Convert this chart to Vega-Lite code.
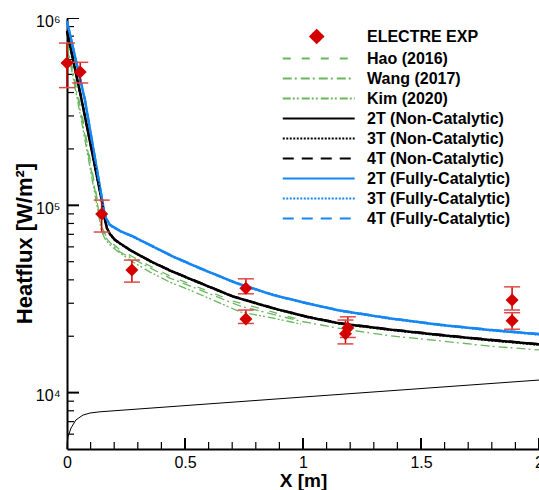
{
  "$schema": "https://vega.github.io/schema/vega-lite/v6.json",
  "width": 472,
  "height": 431,
  "autosize": "none",
  "padding": {"left": 67, "top": 18, "right": 0, "bottom": 41},
  "background": "white",
  "config": {"view": {"stroke": null}, "font": "Liberation Sans"},
  "resolve": {"axis": {"x": "independent", "y": "independent"}},
  "datasets": {
    "xmajor": [{"v": 0}, {"v": 0.5}, {"v": 1}, {"v": 1.5}, {"v": 2}],
    "xminor": [{"v": 0.1}, {"v": 0.2}, {"v": 0.3}, {"v": 0.4}, {"v": 0.6}, {"v": 0.7}, {"v": 0.8}, {"v": 0.9}, {"v": 1.1}, {"v": 1.2}, {"v": 1.3}, {"v": 1.4}, {"v": 1.6}, {"v": 1.7}, {"v": 1.8}, {"v": 1.9}],
    "ymajor": [{"v": 10000}, {"v": 100000}, {"v": 1000000}],
    "yminor": [{"v": 6000}, {"v": 7000}, {"v": 8000}, {"v": 9000}, {"v": 20000}, {"v": 30000}, {"v": 40000}, {"v": 50000}, {"v": 60000}, {"v": 70000}, {"v": 80000}, {"v": 90000}, {"v": 200000}, {"v": 300000}, {"v": 400000}, {"v": 500000}, {"v": 600000}, {"v": 700000}, {"v": 800000}, {"v": 900000}],
    "geom": [
      {"x": 0, "y": 5000}, {"x": 0.001, "y": 5400}, {"x": 0.004, "y": 5800}, {"x": 0.017, "y": 6470},
      {"x": 0.038, "y": 7150}, {"x": 0.068, "y": 7590}, {"x": 0.097, "y": 7780}, {"x": 0.14, "y": 7900},
      {"x": 1.0, "y": 9470}, {"x": 2.0, "y": 11670}
    ],
    "curves": [
      {"s": "Hao (2016)", "x": 0, "y": 745000}, {"s": "Hao (2016)", "x": 0.064, "y": 303500}, {"s": "Hao (2016)", "x": 0.14, "y": 88800},
      {"s": "Hao (2016)", "x": 0.148, "y": 76600}, {"s": "Hao (2016)", "x": 0.165, "y": 68600}, {"s": "Hao (2016)", "x": 0.191, "y": 62900},
      {"s": "Hao (2016)", "x": 0.225, "y": 57700}, {"s": "Hao (2016)", "x": 0.28, "y": 53000}, {"s": "Hao (2016)", "x": 0.352, "y": 47400},
      {"s": "Hao (2016)", "x": 0.436, "y": 41900}, {"s": "Hao (2016)", "x": 0.521, "y": 38000}, {"s": "Hao (2016)", "x": 0.703, "y": 30800},
      {"s": "Hao (2016)", "x": 0.873, "y": 26900}, {"s": "Hao (2016)", "x": 0.992, "y": 24400},

      {"s": "Wang (2017)", "x": 0, "y": 727000}, {"s": "Wang (2017)", "x": 0.061, "y": 299800}, {"s": "Wang (2017)", "x": 0.14, "y": 85500},
      {"s": "Wang (2017)", "x": 0.148, "y": 74700}, {"s": "Wang (2017)", "x": 0.165, "y": 66900}, {"s": "Wang (2017)", "x": 0.191, "y": 61400},
      {"s": "Wang (2017)", "x": 0.225, "y": 56300}, {"s": "Wang (2017)", "x": 0.28, "y": 51700}, {"s": "Wang (2017)", "x": 0.352, "y": 46300},
      {"s": "Wang (2017)", "x": 0.436, "y": 40900}, {"s": "Wang (2017)", "x": 0.521, "y": 37100}, {"s": "Wang (2017)", "x": 0.733, "y": 29000},
      {"s": "Wang (2017)", "x": 0.987, "y": 24100}, {"s": "Wang (2017)", "x": 1.157, "y": 22000}, {"s": "Wang (2017)", "x": 1.369, "y": 20100},
      {"s": "Wang (2017)", "x": 1.581, "y": 18900}, {"s": "Wang (2017)", "x": 1.792, "y": 17700}, {"s": "Wang (2017)", "x": 2.0, "y": 16900},

      {"s": "Kim (2020)", "x": 0, "y": 709000}, {"s": "Kim (2020)", "x": 0.059, "y": 292500}, {"s": "Kim (2020)", "x": 0.138, "y": 83500},
      {"s": "Kim (2020)", "x": 0.146, "y": 72900}, {"s": "Kim (2020)", "x": 0.161, "y": 66100}, {"s": "Kim (2020)", "x": 0.186, "y": 60600},
      {"s": "Kim (2020)", "x": 0.225, "y": 55600}, {"s": "Kim (2020)", "x": 0.28, "y": 49800}, {"s": "Kim (2020)", "x": 0.352, "y": 44000},
      {"s": "Kim (2020)", "x": 0.436, "y": 38900}, {"s": "Kim (2020)", "x": 0.521, "y": 35300}, {"s": "Kim (2020)", "x": 0.733, "y": 27000},
      {"s": "Kim (2020)", "x": 0.873, "y": 25000}, {"s": "Kim (2020)", "x": 0.992, "y": 23200},

      {"s": "2T (Non-Catalytic)", "x": 0, "y": 850000}, {"s": "2T (Non-Catalytic)", "x": 0.062, "y": 365000}, {"s": "2T (Non-Catalytic)", "x": 0.147, "y": 106700},
      {"s": "2T (Non-Catalytic)", "x": 0.155, "y": 92000}, {"s": "2T (Non-Catalytic)", "x": 0.161, "y": 83500}, {"s": "2T (Non-Catalytic)", "x": 0.169, "y": 75700},
      {"s": "2T (Non-Catalytic)", "x": 0.182, "y": 70300}, {"s": "2T (Non-Catalytic)", "x": 0.203, "y": 65300}, {"s": "2T (Non-Catalytic)", "x": 0.267, "y": 57700},
      {"s": "2T (Non-Catalytic)", "x": 0.352, "y": 50400}, {"s": "2T (Non-Catalytic)", "x": 0.436, "y": 44900}, {"s": "2T (Non-Catalytic)", "x": 0.521, "y": 40500},
      {"s": "2T (Non-Catalytic)", "x": 0.703, "y": 32600}, {"s": "2T (Non-Catalytic)", "x": 0.874, "y": 28200}, {"s": "2T (Non-Catalytic)", "x": 1.016, "y": 25400},
      {"s": "2T (Non-Catalytic)", "x": 1.157, "y": 23400}, {"s": "2T (Non-Catalytic)", "x": 1.369, "y": 21700}, {"s": "2T (Non-Catalytic)", "x": 1.581, "y": 20300},
      {"s": "2T (Non-Catalytic)", "x": 1.792, "y": 19100}, {"s": "2T (Non-Catalytic)", "x": 2.0, "y": 18100},

      {"s": "3T (Non-Catalytic)", "x": 0, "y": 845000}, {"s": "3T (Non-Catalytic)", "x": 0.062, "y": 363000}, {"s": "3T (Non-Catalytic)", "x": 0.147, "y": 106000},
      {"s": "3T (Non-Catalytic)", "x": 0.155, "y": 91500}, {"s": "3T (Non-Catalytic)", "x": 0.161, "y": 83000}, {"s": "3T (Non-Catalytic)", "x": 0.169, "y": 75400},
      {"s": "3T (Non-Catalytic)", "x": 0.182, "y": 70000}, {"s": "3T (Non-Catalytic)", "x": 0.203, "y": 65000}, {"s": "3T (Non-Catalytic)", "x": 0.267, "y": 57500},
      {"s": "3T (Non-Catalytic)", "x": 0.352, "y": 50200}, {"s": "3T (Non-Catalytic)", "x": 0.436, "y": 44700}, {"s": "3T (Non-Catalytic)", "x": 0.521, "y": 40300},
      {"s": "3T (Non-Catalytic)", "x": 0.703, "y": 32500}, {"s": "3T (Non-Catalytic)", "x": 0.874, "y": 28100}, {"s": "3T (Non-Catalytic)", "x": 1.016, "y": 25300},
      {"s": "3T (Non-Catalytic)", "x": 1.157, "y": 23300}, {"s": "3T (Non-Catalytic)", "x": 1.369, "y": 21600}, {"s": "3T (Non-Catalytic)", "x": 1.581, "y": 20200},
      {"s": "3T (Non-Catalytic)", "x": 1.792, "y": 19000}, {"s": "3T (Non-Catalytic)", "x": 2.0, "y": 18000},

      {"s": "4T (Non-Catalytic)", "x": 0, "y": 855000}, {"s": "4T (Non-Catalytic)", "x": 0.062, "y": 367000}, {"s": "4T (Non-Catalytic)", "x": 0.147, "y": 107200},
      {"s": "4T (Non-Catalytic)", "x": 0.155, "y": 92500}, {"s": "4T (Non-Catalytic)", "x": 0.161, "y": 84000}, {"s": "4T (Non-Catalytic)", "x": 0.169, "y": 76000},
      {"s": "4T (Non-Catalytic)", "x": 0.182, "y": 70600}, {"s": "4T (Non-Catalytic)", "x": 0.203, "y": 65600}, {"s": "4T (Non-Catalytic)", "x": 0.267, "y": 57900},
      {"s": "4T (Non-Catalytic)", "x": 0.352, "y": 50600}, {"s": "4T (Non-Catalytic)", "x": 0.436, "y": 45100}, {"s": "4T (Non-Catalytic)", "x": 0.521, "y": 40700},
      {"s": "4T (Non-Catalytic)", "x": 0.703, "y": 32700}, {"s": "4T (Non-Catalytic)", "x": 0.874, "y": 28300}, {"s": "4T (Non-Catalytic)", "x": 1.016, "y": 25500},
      {"s": "4T (Non-Catalytic)", "x": 1.157, "y": 23500}, {"s": "4T (Non-Catalytic)", "x": 1.369, "y": 21800}, {"s": "4T (Non-Catalytic)", "x": 1.581, "y": 20400},
      {"s": "4T (Non-Catalytic)", "x": 1.792, "y": 19200}, {"s": "4T (Non-Catalytic)", "x": 2.0, "y": 18200},

      {"s": "2T (Fully-Catalytic)", "x": 0, "y": 960000}, {"s": "2T (Fully-Catalytic)", "x": 0.076, "y": 365000}, {"s": "2T (Fully-Catalytic)", "x": 0.157, "y": 93300},
      {"s": "2T (Fully-Catalytic)", "x": 0.165, "y": 85500}, {"s": "2T (Fully-Catalytic)", "x": 0.182, "y": 78500}, {"s": "2T (Fully-Catalytic)", "x": 0.225, "y": 72900},
      {"s": "2T (Fully-Catalytic)", "x": 0.281, "y": 68000}, {"s": "2T (Fully-Catalytic)", "x": 0.366, "y": 60100}, {"s": "2T (Fully-Catalytic)", "x": 0.45, "y": 53200},
      {"s": "2T (Fully-Catalytic)", "x": 0.564, "y": 46100}, {"s": "2T (Fully-Catalytic)", "x": 0.716, "y": 38500}, {"s": "2T (Fully-Catalytic)", "x": 0.874, "y": 33200},
      {"s": "2T (Fully-Catalytic)", "x": 1.016, "y": 30000}, {"s": "2T (Fully-Catalytic)", "x": 1.157, "y": 27400}, {"s": "2T (Fully-Catalytic)", "x": 1.369, "y": 24900},
      {"s": "2T (Fully-Catalytic)", "x": 1.581, "y": 23000}, {"s": "2T (Fully-Catalytic)", "x": 1.792, "y": 21600}, {"s": "2T (Fully-Catalytic)", "x": 2.0, "y": 20500},

      {"s": "3T (Fully-Catalytic)", "x": 0, "y": 955000}, {"s": "3T (Fully-Catalytic)", "x": 0.076, "y": 363000}, {"s": "3T (Fully-Catalytic)", "x": 0.157, "y": 92800},
      {"s": "3T (Fully-Catalytic)", "x": 0.165, "y": 85100}, {"s": "3T (Fully-Catalytic)", "x": 0.182, "y": 78100}, {"s": "3T (Fully-Catalytic)", "x": 0.225, "y": 72600},
      {"s": "3T (Fully-Catalytic)", "x": 0.281, "y": 67700}, {"s": "3T (Fully-Catalytic)", "x": 0.366, "y": 59900}, {"s": "3T (Fully-Catalytic)", "x": 0.45, "y": 53000},
      {"s": "3T (Fully-Catalytic)", "x": 0.564, "y": 45900}, {"s": "3T (Fully-Catalytic)", "x": 0.716, "y": 38400}, {"s": "3T (Fully-Catalytic)", "x": 0.874, "y": 33100},
      {"s": "3T (Fully-Catalytic)", "x": 1.016, "y": 29900}, {"s": "3T (Fully-Catalytic)", "x": 1.157, "y": 27300}, {"s": "3T (Fully-Catalytic)", "x": 1.369, "y": 24800},
      {"s": "3T (Fully-Catalytic)", "x": 1.581, "y": 22900}, {"s": "3T (Fully-Catalytic)", "x": 1.792, "y": 21500}, {"s": "3T (Fully-Catalytic)", "x": 2.0, "y": 20400},

      {"s": "4T (Fully-Catalytic)", "x": 0, "y": 965000}, {"s": "4T (Fully-Catalytic)", "x": 0.076, "y": 367000}, {"s": "4T (Fully-Catalytic)", "x": 0.157, "y": 93800},
      {"s": "4T (Fully-Catalytic)", "x": 0.165, "y": 85900}, {"s": "4T (Fully-Catalytic)", "x": 0.182, "y": 78900}, {"s": "4T (Fully-Catalytic)", "x": 0.225, "y": 73200},
      {"s": "4T (Fully-Catalytic)", "x": 0.281, "y": 68300}, {"s": "4T (Fully-Catalytic)", "x": 0.366, "y": 60300}, {"s": "4T (Fully-Catalytic)", "x": 0.45, "y": 53400},
      {"s": "4T (Fully-Catalytic)", "x": 0.564, "y": 46300}, {"s": "4T (Fully-Catalytic)", "x": 0.716, "y": 38600}, {"s": "4T (Fully-Catalytic)", "x": 0.874, "y": 33300},
      {"s": "4T (Fully-Catalytic)", "x": 1.016, "y": 30100}, {"s": "4T (Fully-Catalytic)", "x": 1.157, "y": 27500}, {"s": "4T (Fully-Catalytic)", "x": 1.369, "y": 25000},
      {"s": "4T (Fully-Catalytic)", "x": 1.581, "y": 23100}, {"s": "4T (Fully-Catalytic)", "x": 1.792, "y": 21700}, {"s": "4T (Fully-Catalytic)", "x": 2.0, "y": 20600}
    ],
    "exp": [
      {"s": "ELECTRE EXP", "x": 0.0, "y": 575000, "lo": 425000, "hi": 735000},
      {"s": "ELECTRE EXP", "x": 0.056, "y": 515000, "lo": 450000, "hi": 580000},
      {"s": "ELECTRE EXP", "x": 0.147, "y": 90000, "lo": 72000, "hi": 106600},
      {"s": "ELECTRE EXP", "x": 0.275, "y": 45200, "lo": 38900, "hi": 51000},
      {"s": "ELECTRE EXP", "x": 0.758, "y": 36100, "lo": 33700, "hi": 40500},
      {"s": "ELECTRE EXP", "x": 0.758, "y": 24700, "lo": 23400, "hi": 27600},
      {"s": "ELECTRE EXP", "x": 1.19, "y": 22100, "lo": 19700, "hi": 25400},
      {"s": "ELECTRE EXP", "x": 1.18, "y": 20600, "lo": 18200, "hi": 24400},
      {"s": "ELECTRE EXP", "x": 1.886, "y": 31200, "lo": 27600, "hi": 36700},
      {"s": "ELECTRE EXP", "x": 1.886, "y": 24200, "lo": 21800, "hi": 26700}
    ]
  },
  "layer": [
    {
      "data": {"name": "geom"},
      "mark": {"type": "line", "color": "black", "strokeWidth": 1},
      "encoding": {
        "x": {
          "field": "x", "type": "quantitative",
          "scale": {"domain": [0, 2], "nice": false, "zero": false},
          "axis": {
            "orient": "bottom",
            "values": [0, 0.5, 1, 1.5, 2], "format": "~g",
            "grid": false, "ticks": false,
            "title": "X [m]", "titleFont": "Liberation Sans", "titleFontSize": 19, "titleFontWeight": "bold", "titleColor": "black",
            "titleX": 236, "titleY": 37, "titleBaseline": "alphabetic", "titleAlign": "center",
            "labelFont": "Liberation Sans", "labelFontSize": 16, "labelColor": "black", "labelFlush": false, "labelOverlap": false,
            "labelBaseline": "alphabetic", "labelPadding": 18,
            "domainColor": "black", "domainWidth": 2
          }
        },
        "y": {
          "field": "y", "type": "quantitative",
          "scale": {"type": "log", "domain": [5000, 1000000], "nice": false},
          "axis": {
            "orient": "left",
            "values": [10000, 100000, 1000000],
            "grid": false, "ticks": false,
            "title": "Heatflux [W/m²]", "titleFont": "Liberation Sans", "titleFontSize": 22, "titleFontWeight": "bold", "titleColor": "black",
            "titleAngle": -90, "titleX": -36, "titleY": 225, "titleBaseline": "alphabetic", "titleAlign": "center",
            "labelExpr": "datum.value == 10000 ? '10⁴' : datum.value == 100000 ? '10⁵' : '10⁶'",
            "labelFont": "Liberation Sans", "labelFontSize": 16, "labelColor": "black", "labelOverlap": false, "labelFlush": false,
            "labelBaseline": "alphabetic", "labelAlign": "right", "labelOffset": 8, "labelPadding": 7,
            "domainColor": "black", "domainWidth": 2
          }
        }
      }
    },
    {
      "data": {"name": "xmajor"},
      "mark": {"type": "tick", "orient": "vertical", "size": 22, "thickness": 2, "color": "black", "opacity": 1, "clip": true},
      "encoding": {
        "x": {"field": "v", "type": "quantitative", "axis": {"orient": "bottom", "title": null, "labels": false, "ticks": false, "domain": false, "grid": false}},
        "y": {"datum": 5000, "type": "quantitative", "axis": {"orient": "left", "title": null, "labels": false, "ticks": false, "domain": false, "grid": false}}
      }
    },
    {
      "data": {"name": "xminor"},
      "mark": {"type": "tick", "orient": "vertical", "size": 14, "thickness": 1.2, "color": "black", "opacity": 1, "clip": true},
      "encoding": {
        "x": {"field": "v", "type": "quantitative", "axis": {"orient": "bottom", "title": null, "labels": false, "ticks": false, "domain": false, "grid": false}},
        "y": {"datum": 5000, "type": "quantitative", "axis": {"orient": "left", "title": null, "labels": false, "ticks": false, "domain": false, "grid": false}}
      }
    },
    {
      "data": {"name": "ymajor"},
      "mark": {"type": "tick", "orient": "horizontal", "size": 24, "thickness": 2, "color": "black", "opacity": 1, "clip": true},
      "encoding": {
        "x": {"datum": 0, "type": "quantitative", "axis": {"orient": "bottom", "title": null, "labels": false, "ticks": false, "domain": false, "grid": false}},
        "y": {"field": "v", "type": "quantitative", "axis": {"orient": "left", "title": null, "labels": false, "ticks": false, "domain": false, "grid": false}}
      }
    },
    {
      "data": {"name": "yminor"},
      "mark": {"type": "tick", "orient": "horizontal", "size": 14, "thickness": 1.2, "color": "black", "opacity": 1, "clip": true},
      "encoding": {
        "x": {"datum": 0, "type": "quantitative", "axis": {"orient": "bottom", "title": null, "labels": false, "ticks": false, "domain": false, "grid": false}},
        "y": {"field": "v", "type": "quantitative", "axis": {"orient": "left", "title": null, "labels": false, "ticks": false, "domain": false, "grid": false}}
      }
    },
    {
      "data": {"name": "curves"},
      "transform": [{"filter": "indexof(['Hao (2016)','Wang (2017)','Kim (2020)'], datum.s) >= 0"}],
      "mark": {"type": "line", "strokeWidth": 1.3},
      "encoding": {
        "x": {"field": "x", "type": "quantitative", "axis": {"orient": "bottom", "title": null, "labels": false, "ticks": false, "domain": false, "grid": false}},
        "y": {"field": "y", "type": "quantitative", "axis": {"orient": "left", "title": null, "labels": false, "ticks": false, "domain": false, "grid": false}},
        "color": {
          "field": "s", "type": "nominal",
          "scale": {
            "domain": ["ELECTRE EXP", "Hao (2016)", "Wang (2017)", "Kim (2020)", "2T (Non-Catalytic)", "3T (Non-Catalytic)", "4T (Non-Catalytic)", "2T (Fully-Catalytic)", "3T (Fully-Catalytic)", "4T (Fully-Catalytic)"],
            "range": ["#d40000", "#6ab65e", "#6ab65e", "#6ab65e", "#000000", "#000000", "#000000", "#1686f2", "#1686f2", "#1686f2"]
          },
          "legend": {
            "orient": "none", "legendX": 272, "legendY": 10, "title": null, "padding": 0,
            "labelFont": "Liberation Sans", "labelFontSize": 16, "labelFontWeight": "bold", "labelColor": "black", "labelLimit": 400,
            "labelOffset": 11, "rowPadding": 3, "symbolSize": 207, "symbolStrokeWidth": 2,
            "encode": {
              "symbols": {
                "update": {
                  "shape": {"signal": "datum.value == 'ELECTRE EXP' ? 'M-4.28,-0.89L-3.39,0L-4.28,0.89L-5.17,0Z' : 'M-9,0H1'"},
                  "fill": {"signal": "datum.value == 'ELECTRE EXP' ? '#d40000' : 'transparent'"},
                  "stroke": {"signal": "datum.value == 'ELECTRE EXP' ? 'transparent' : scale('color', datum.value)"},
                  "strokeDash": {"signal": "datum.value == 'Hao (2016)' ? [8,11] : datum.value == 'Wang (2017)' ? [9,3,2,4] : datum.value == 'Kim (2020)' ? [8,2,2,2,2,3] : indexof(datum.value, '3T') == 0 ? [2,1.5] : indexof(datum.value, '4T') == 0 ? [11,8] : [1,0]"},
                  "opacity": {"value": 1}
                }
              }
            }
          }
        },
        "strokeDash": {
          "field": "s", "type": "nominal",
          "scale": {
            "domain": ["Hao (2016)", "Wang (2017)", "Kim (2020)", "2T (Non-Catalytic)", "3T (Non-Catalytic)", "4T (Non-Catalytic)", "2T (Fully-Catalytic)", "3T (Fully-Catalytic)", "4T (Fully-Catalytic)"],
            "range": [[8, 11], [9, 3, 2, 4], [8, 2, 2, 2, 2, 3], [1, 0], [2, 1.5], [11, 8], [1, 0], [2, 1.5], [11, 8]]
          },
          "legend": null
        }
      }
    },
    {
      "data": {"name": "curves"},
      "transform": [{"filter": "indexof(datum.s, '2T') == 0"}],
      "mark": {"type": "line", "strokeWidth": 2.5},
      "encoding": {
        "x": {"field": "x", "type": "quantitative", "axis": {"orient": "bottom", "title": null, "labels": false, "ticks": false, "domain": false, "grid": false}},
        "y": {"field": "y", "type": "quantitative", "axis": {"orient": "left", "title": null, "labels": false, "ticks": false, "domain": false, "grid": false}},
        "color": {"field": "s", "type": "nominal"},
        "strokeDash": {"field": "s", "type": "nominal", "legend": null}
      }
    },
    {
      "data": {"name": "curves"},
      "transform": [{"filter": "indexof(datum.s, '3T') == 0 || indexof(datum.s, '4T') == 0"}],
      "mark": {"type": "line", "strokeWidth": 2},
      "encoding": {
        "x": {"field": "x", "type": "quantitative", "axis": {"orient": "bottom", "title": null, "labels": false, "ticks": false, "domain": false, "grid": false}},
        "y": {"field": "y", "type": "quantitative", "axis": {"orient": "left", "title": null, "labels": false, "ticks": false, "domain": false, "grid": false}},
        "color": {"field": "s", "type": "nominal"},
        "strokeDash": {"field": "s", "type": "nominal", "legend": null}
      }
    },
    {
      "data": {"name": "exp"},
      "mark": {"type": "rule", "color": "#cc0000", "strokeWidth": 1.5},
      "encoding": {
        "x": {"field": "x", "type": "quantitative", "axis": {"orient": "bottom", "title": null, "labels": false, "ticks": false, "domain": false, "grid": false}},
        "y": {"field": "lo", "type": "quantitative", "axis": {"orient": "left", "title": null, "labels": false, "ticks": false, "domain": false, "grid": false}},
        "y2": {"field": "hi"}
      }
    },
    {
      "data": {"name": "exp"},
      "mark": {"type": "tick", "orient": "horizontal", "color": "#e04848", "size": 16, "thickness": 1.5, "opacity": 1},
      "encoding": {
        "x": {"field": "x", "type": "quantitative", "axis": {"orient": "bottom", "title": null, "labels": false, "ticks": false, "domain": false, "grid": false}},
        "y": {"field": "lo", "type": "quantitative", "axis": {"orient": "left", "title": null, "labels": false, "ticks": false, "domain": false, "grid": false}}
      }
    },
    {
      "data": {"name": "exp"},
      "mark": {"type": "tick", "orient": "horizontal", "color": "#e04848", "size": 16, "thickness": 1.5, "opacity": 1},
      "encoding": {
        "x": {"field": "x", "type": "quantitative", "axis": {"orient": "bottom", "title": null, "labels": false, "ticks": false, "domain": false, "grid": false}},
        "y": {"field": "hi", "type": "quantitative", "axis": {"orient": "left", "title": null, "labels": false, "ticks": false, "domain": false, "grid": false}}
      }
    },
    {
      "data": {"name": "exp"},
      "mark": {"type": "point", "shape": "diamond", "filled": true, "size": 169, "opacity": 1},
      "encoding": {
        "x": {"field": "x", "type": "quantitative", "axis": {"orient": "bottom", "title": null, "labels": false, "ticks": false, "domain": false, "grid": false}},
        "y": {"field": "y", "type": "quantitative", "axis": {"orient": "left", "title": null, "labels": false, "ticks": false, "domain": false, "grid": false}},
        "color": {"field": "s", "type": "nominal"}
      }
    }
  ]
}
